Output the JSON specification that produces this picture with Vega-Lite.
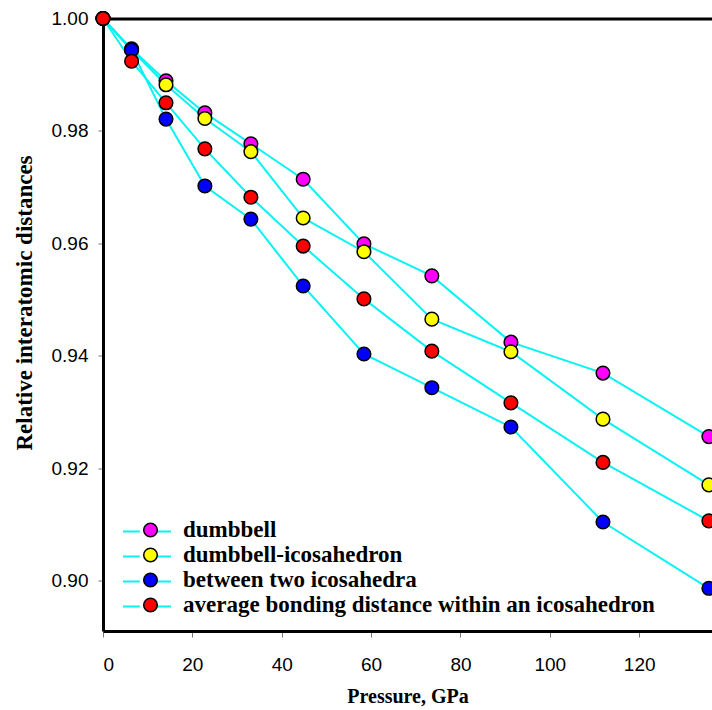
{
  "$schema": "https://vega.github.io/schema/vega-lite/v6.json",
  "autosize": "none",
  "width": 609,
  "height": 612.5,
  "padding": {"left": 103, "top": 18.5, "right": 0, "bottom": 79},
  "background": "white",
  "config": {"view": {"stroke": null}, "axis": {"grid": false}},
  "data": {"values": [
    {"p": 0, "r": 1.0, "s": "dumbbell"},
    {"p": 6.4, "r": 0.9946, "s": "dumbbell"},
    {"p": 14.1, "r": 0.9889, "s": "dumbbell"},
    {"p": 22.8, "r": 0.9832, "s": "dumbbell"},
    {"p": 33.1, "r": 0.9777, "s": "dumbbell"},
    {"p": 44.8, "r": 0.9714, "s": "dumbbell"},
    {"p": 58.4, "r": 0.9599, "s": "dumbbell"},
    {"p": 73.6, "r": 0.9542, "s": "dumbbell"},
    {"p": 91.3, "r": 0.9424, "s": "dumbbell"},
    {"p": 111.9, "r": 0.9369, "s": "dumbbell"},
    {"p": 135.6, "r": 0.9256, "s": "dumbbell"},
    {"p": 0, "r": 1.0, "s": "dumbbell-icosahedron"},
    {"p": 6.4, "r": 0.9944, "s": "dumbbell-icosahedron"},
    {"p": 14.1, "r": 0.9882, "s": "dumbbell-icosahedron"},
    {"p": 22.8, "r": 0.9822, "s": "dumbbell-icosahedron"},
    {"p": 33.1, "r": 0.9763, "s": "dumbbell-icosahedron"},
    {"p": 44.8, "r": 0.9645, "s": "dumbbell-icosahedron"},
    {"p": 58.4, "r": 0.9585, "s": "dumbbell-icosahedron"},
    {"p": 73.6, "r": 0.9465, "s": "dumbbell-icosahedron"},
    {"p": 91.3, "r": 0.9407, "s": "dumbbell-icosahedron"},
    {"p": 111.9, "r": 0.9287, "s": "dumbbell-icosahedron"},
    {"p": 135.6, "r": 0.917, "s": "dumbbell-icosahedron"},
    {"p": 0, "r": 1.0, "s": "between two icosahedra"},
    {"p": 6.4, "r": 0.9944, "s": "between two icosahedra"},
    {"p": 14.1, "r": 0.9821, "s": "between two icosahedra"},
    {"p": 22.8, "r": 0.9702, "s": "between two icosahedra"},
    {"p": 33.1, "r": 0.9643, "s": "between two icosahedra"},
    {"p": 44.8, "r": 0.9524, "s": "between two icosahedra"},
    {"p": 58.4, "r": 0.9403, "s": "between two icosahedra"},
    {"p": 73.6, "r": 0.9343, "s": "between two icosahedra"},
    {"p": 91.3, "r": 0.9273, "s": "between two icosahedra"},
    {"p": 111.9, "r": 0.9104, "s": "between two icosahedra"},
    {"p": 135.6, "r": 0.8986, "s": "between two icosahedra"},
    {"p": 0, "r": 1.0, "s": "average bonding distance within an icosahedron"},
    {"p": 6.4, "r": 0.9924, "s": "average bonding distance within an icosahedron"},
    {"p": 14.1, "r": 0.985, "s": "average bonding distance within an icosahedron"},
    {"p": 22.8, "r": 0.9768, "s": "average bonding distance within an icosahedron"},
    {"p": 33.1, "r": 0.9682, "s": "average bonding distance within an icosahedron"},
    {"p": 44.8, "r": 0.9595, "s": "average bonding distance within an icosahedron"},
    {"p": 58.4, "r": 0.9501, "s": "average bonding distance within an icosahedron"},
    {"p": 73.6, "r": 0.9408, "s": "average bonding distance within an icosahedron"},
    {"p": 91.3, "r": 0.9316, "s": "average bonding distance within an icosahedron"},
    {"p": 111.9, "r": 0.921, "s": "average bonding distance within an icosahedron"},
    {"p": 135.6, "r": 0.9106, "s": "average bonding distance within an icosahedron"}
  ]},
  "layer": [
    {
      "mark": {"type": "line", "strokeWidth": 2},
      "encoding": {
        "x": {
          "field": "p", "type": "quantitative",
          "scale": {"domain": [0, 136.3], "nice": false, "zero": false},
          "axis": {"orient": "top", "labels": false, "ticks": false, "title": null, "domainColor": "black", "domainWidth": 3}
        },
        "y": {
          "field": "r", "type": "quantitative",
          "scale": {"domain": [0.891, 1.0], "nice": false, "zero": false},
          "axis": {
            "orient": "left", "values": [0.9, 0.92, 0.94, 0.96, 0.98, 1.0], "format": ".2f",
            "domainColor": "black", "domainWidth": 3,
            "tickColor": "#777777", "tickWidth": 1, "tickSize": 5,
            "labelFont": "Liberation Sans", "labelFontSize": 19, "labelColor": "black", "labelPadding": 10,
            "title": "Relative interatomic distances", "titleFont": "Liberation Serif", "titleFontWeight": "bold",
            "titleFontSize": 23, "titleColor": "black", "titlePadding": 15, "titleY": 284
          }
        },
        "stroke": {
          "field": "s", "type": "nominal",
          "scale": {"range": ["#0AF2F2", "#0AF2F2", "#0AF2F2", "#0AF2F2"]},
          "legend": {
            "orient": "none", "legendX": 19, "legendY": 503, "title": null, "padding": 0,
            "symbolType": "M -1 0 L -0.3 0 M 0.3 0 L 1 0", "symbolSize": 2304, "symbolStrokeWidth": 2,
            "symbolOpacity": 1, "labelExpr": "''", "labelFontSize": 20, "rowPadding": 5, "clipHeight": 20
          }
        }
      }
    },
    {
      "mark": {"type": "point", "filled": true, "size": 185, "opacity": 1, "stroke": "black", "strokeWidth": 1.5},
      "encoding": {
        "x": {
          "field": "p", "type": "quantitative",
          "axis": {
            "orient": "bottom", "values": [0, 20, 40, 60, 80, 100, 120],
            "domainColor": "black", "domainWidth": 3,
            "tickColor": "#777777", "tickWidth": 1, "tickSize": 6,
            "labelFont": "Liberation Sans", "labelFontSize": 19, "labelColor": "black", "labelPadding": 18,
            "title": "Pressure, GPa", "titleFont": "Liberation Serif", "titleFontWeight": "bold",
            "titleFontSize": 20, "titleColor": "black", "titlePadding": 12
          }
        },
        "y": {"field": "r", "type": "quantitative"},
        "fill": {
          "field": "s", "type": "nominal",
          "scale": {
            "domain": ["dumbbell", "dumbbell-icosahedron", "between two icosahedra", "average bonding distance within an icosahedron"],
            "range": ["#FF00FF", "#FFFF00", "#0000FF", "#FF0000"]
          },
          "legend": {
            "orient": "none", "legendX": 36, "legendY": 501.5, "title": null, "padding": 0,
            "symbolType": "circle", "symbolSize": 185, "symbolStrokeColor": "black", "symbolStrokeWidth": 1.5,
            "symbolOpacity": 1, "labelFont": "Liberation Serif", "labelFontWeight": "bold", "labelFontSize": 23,
            "labelColor": "black", "labelOffset": 21, "labelLimit": 600, "rowPadding": 2, "clipHeight": 20
          }
        }
      }
    }
  ]
}
